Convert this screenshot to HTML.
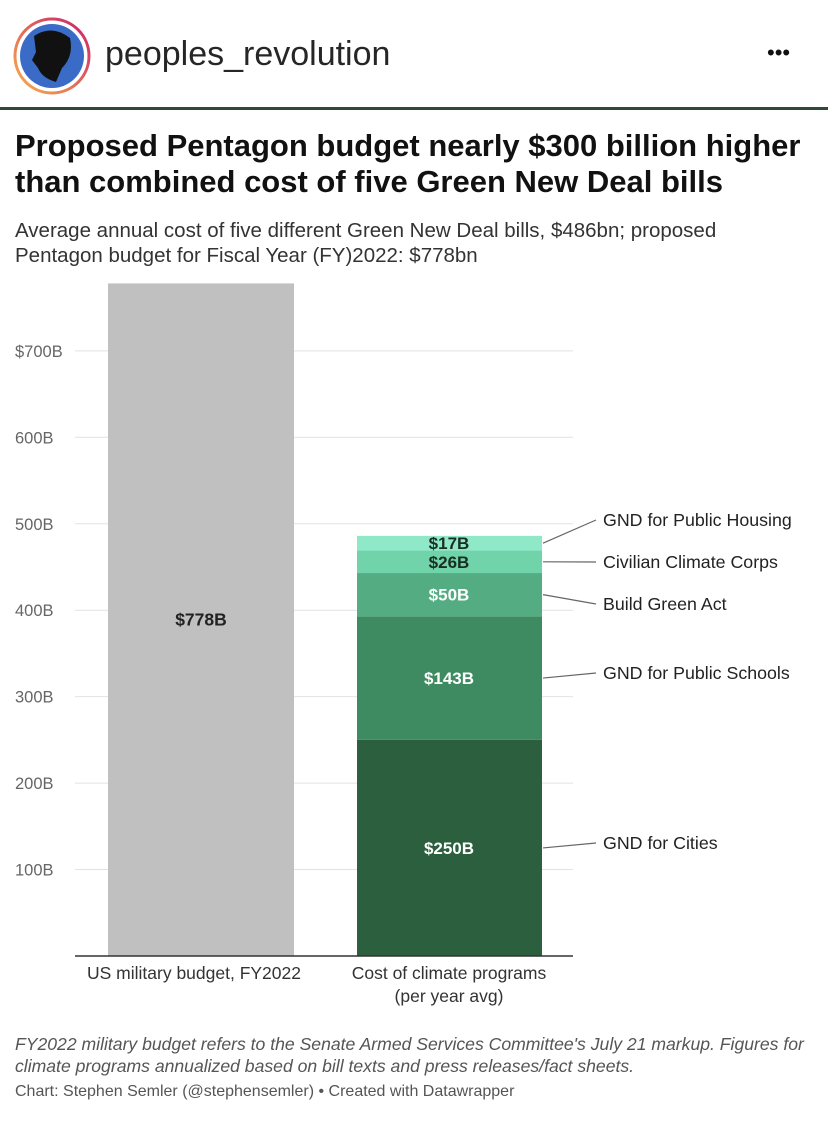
<!DOCTYPE html>
<html><head><meta charset="utf-8">
<style>
body{margin:0;width:828px;height:1125px;background:#fff;font-family:"Liberation Sans",sans-serif;overflow:hidden;position:relative}
.abs{position:absolute;white-space:nowrap}
</style></head><body>
<div class="abs" style="left:0;top:0;width:828px;height:108px">
  <svg class="abs" style="left:12px;top:16px" width="80" height="80">
    <defs><linearGradient id="g" x1="0" y1="1" x2="1" y2="0"><stop offset="0" stop-color="#f9b24a"/><stop offset="1" stop-color="#c9206a"/></linearGradient></defs>
    <circle cx="40" cy="40" r="37" fill="none" stroke="url(#g)" stroke-width="3"/>
    <circle cx="40" cy="40" r="32" fill="#3a6bc7"/>
    <path d="M22 20 Q40 8 58 22 Q62 40 50 52 L44 66 Q30 62 26 52 L20 44 L24 36 Z" fill="#111"/>
  </svg>
  <div class="abs" style="left:105px;top:35px;font-size:34px;color:#262626">peoples_revolution</div>
  <div class="abs" style="left:767px;top:40px;font-size:22px;color:#111">•••</div>
</div>
<div class="abs" style="left:0;top:107px;width:828px;height:3px;background:#2f4a37"></div>
<div class="abs" style="left:15px;top:128px;font-size:31px;font-weight:bold;color:#111;line-height:36px">Proposed Pentagon budget nearly $300 billion higher<br>than combined cost of five Green New Deal bills</div>
<div class="abs" style="left:15px;top:218px;font-size:20.5px;color:#333;line-height:25px">Average annual cost of five different Green New Deal bills, $486bn; proposed<br>Pentagon budget for Fiscal Year (FY)2022: $778bn</div>
<svg class="abs" id="chart" style="left:0;top:0" width="828" height="1125"></svg>
<div class="abs" style="left:15px;top:1033px;font-size:17.6px;font-style:italic;color:#555;line-height:22px">FY2022 military budget refers to the Senate Armed Services Committee's July 21 markup. Figures for<br>climate programs annualized based on bill texts and press releases/fact sheets.</div>
<div class="abs" style="left:15px;top:1083px;font-size:16px;color:#555">Chart: Stephen Semler (@stephensemler) • Created with Datawrapper</div>
<script>
const ticks=[100,200,300,400,500,600,700];
const tickLabels=["100B","200B","300B","400B","500B","600B","$700B"];
const military=[778];
const segNames=["GND for Cities","GND for Public Schools","Build Green Act","Civilian Climate Corps","GND for Public Housing"];
const segValues=[250,143,50,26,17];
const segColors=["#2b5f3d","#3e8b61","#54ad82","#70d3aa","#8fe9c8"];
const labelY=[848,678,609,567,525];
const svg=document.getElementById('chart');
const NS='http://www.w3.org/2000/svg';
const y=v=>956-v*0.8645;
function el(t,a){const e=document.createElementNS(NS,t);for(const k in a)e.setAttribute(k,a[k]);svg.appendChild(e);return e;}
ticks.forEach((t,i)=>{
  const l=el('line',{x1:75,x2:573,y1:y(t),y2:y(t),stroke:'#e2e2e2','stroke-width':1});
  
  const tx=el('text',{x:15,y:y(t)+6,'font-size':16.5,fill:'#666','font-family':'Liberation Sans'});tx.textContent=tickLabels[i];
  
});
const b=el('rect',{x:108,width:186,y:y(military[0]),height:y(0)-y(military[0]),fill:'#c0c0c0'});

const bt=el('text',{x:201,y:(y(military[0])+y(0))/2+6,'text-anchor':'middle','font-size':17.5,'font-weight':'bold',fill:'#222','font-family':'Liberation Sans'});bt.textContent='$'+military[0]+'B';

let cum=0;
segValues.forEach((v,i)=>{
  const y0=y(cum),y1=y(cum+v);cum+=v;
  const r=el('rect',{x:357,width:185,y:y1,height:y0-y1,fill:segColors[i]});
  
  const mid=(y0+y1)/2;
  const t=el('text',{x:449,y:mid+6,'text-anchor':'middle','font-size':17,'font-weight':'bold',fill:i<3?'#fff':'#1a2e22','font-family':'Liberation Sans'});t.textContent='$'+v+'B';
  
  const ln=el('line',{x1:543,y1:mid,x2:596,y2:labelY[i]-5,stroke:'#666','stroke-width':1.2});
  
  const lt=el('text',{x:603,y:labelY[i]+1,'font-size':17.8,fill:'#222','font-family':'Liberation Sans'});lt.textContent=segNames[i];
  
});
const ax=el('line',{x1:75,x2:573,y1:956,y2:956,stroke:'#333','stroke-width':1.5});

[[194,979,'US military budget, FY2022'],[449,979,'Cost of climate programs'],[449,1002,'(per year avg)']].forEach(a=>{
  const t=el('text',{x:a[0],y:a[1],'text-anchor':'middle','font-size':17.5,fill:'#333','font-family':'Liberation Sans'});t.textContent=a[2];
  
});
</script>
</body></html>
